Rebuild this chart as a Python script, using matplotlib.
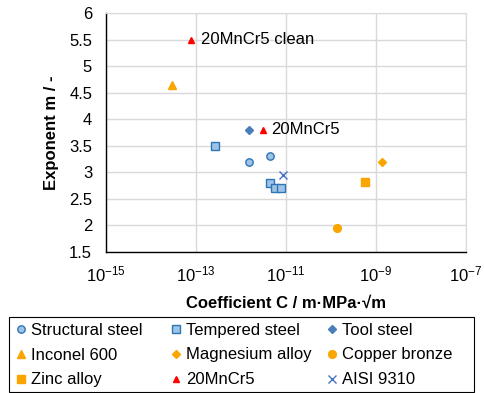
import matplotlib
matplotlib.use("Agg")
import matplotlib.pyplot as plt
from matplotlib.lines import Line2D
from matplotlib.patches import Rectangle

plt.rcParams['font.family'] = ['Liberation Sans', 'DejaVu Sans']
plt.rcParams['mathtext.fontset'] = 'custom'
plt.rcParams['mathtext.rm'] = 'Liberation Sans'
plt.rcParams['mathtext.it'] = 'Liberation Sans:italic'
plt.rcParams['mathtext.bf'] = 'Liberation Sans:bold'

# Data: (C, m)
structural_C = [1.5e-12, 4.4e-12]
structural_m = [3.2, 3.3]
tempered_C = [2.6e-13, 4.4e-12, 5.7e-12, 7.9e-12]
tempered_m = [3.5, 2.8, 2.7, 2.7]
tool_C = [1.5e-12]
tool_m = [3.8]
inconel_C = [2.9e-14]
inconel_m = [4.65]
magnesium_C = [1.36e-9]
magnesium_m = [3.2]
copper_C = [1.36e-10]
copper_m = [1.95]
zinc_C = [5.8e-10]
zinc_m = [2.82]
mncr_C = [7.9e-14, 3.0e-12]
mncr_m = [5.5, 3.8]
mncr_labels = ["20MnCr5 clean", "20MnCr5"]
aisi_C = [8.4e-12]
aisi_m = [2.95]

x_ticks = [1e-15, 1e-13, 1e-11, 1e-9, 1e-7]
y_ticks = [1.5, 2, 2.5, 3, 3.5, 4, 4.5, 5, 5.5, 6]

blue_fill = '#9DC3E6'
blue_edge = '#2E75B6'
tool_blue = '#4A7EBB'
orange = '#F9A602'
red = '#FF0000'

FS = 12
W, H = 485, 393

fig = plt.figure(figsize=(4.85, 3.93), dpi=100)
ax = fig.add_axes([0.2186, 0.359, 0.7424, 0.608])

series = [
    (structural_C, structural_m, 'o', blue_fill, blue_edge, 5.3, 'Structural steel'),
    (tempered_C, tempered_m, 's', blue_fill, blue_edge, 5.6, 'Tempered steel'),
    (tool_C, tool_m, 'D', tool_blue, tool_blue, 4.2, 'Tool steel'),
    (inconel_C, inconel_m, '^', orange, orange, 6.0, 'Inconel 600'),
    (magnesium_C, magnesium_m, 'D', orange, orange, 3.6, 'Magnesium alloy'),
    (copper_C, copper_m, 'o', orange, orange, 5.6, 'Copper bronze'),
    (zinc_C, zinc_m, 's', orange, orange, 5.6, 'Zinc alloy'),
    (mncr_C, mncr_m, '^', red, red, 5.0, '20MnCr5'),
]
handles = []
for C, m, mk, fc, ec, ms, lab in series:
    ax.plot(C, m, linestyle='none', marker=mk, markerfacecolor=fc,
            markeredgecolor=ec, markersize=ms, markeredgewidth=1.0, zorder=3)
    handles.append(Line2D([], [], linestyle='none', marker=mk, markerfacecolor=fc,
                          markeredgecolor=ec, markersize=ms,
                          markeredgewidth=1.0, label=lab))
ax.plot(aisi_C, aisi_m, linestyle='none', marker='x', color='#4472C4',
        markersize=6, markeredgewidth=1.0, zorder=3)
handles.append(Line2D([], [], linestyle='none', marker='x', color='#4472C4',
                      markersize=6, markeredgewidth=1.0, label='AISI 9310'))

offsets = [(7, 0), (6, 0)]
for c, m, lab, off in zip(mncr_C, mncr_m, mncr_labels, offsets):
    ax.annotate(lab, (c, m), xytext=off, textcoords='offset points',
                va='center', ha='left', fontsize=FS)

ax.set_xscale('log')
ax.set_xlim(1e-15, 1e-7)
ax.set_ylim(1.5, 6)
ax.set_xticks(x_ticks)
ax.set_yticks(y_ticks)
ax.set_yticklabels([f"{v:g}" for v in y_ticks])
ax.minorticks_off()
ax.tick_params(axis='y', length=0, labelsize=FS, pad=10)
ax.tick_params(axis='x', length=0, labelsize=FS, pad=9)
ax.grid(True, color='#D9D9D9', linewidth=1.0, zorder=0)
ax.set_axisbelow(True)
for s in ['top', 'right']:
    ax.spines[s].set_color('#D9D9D9')
for s in ['left', 'bottom']:
    ax.spines[s].set_color('black')
    ax.spines[s].set_linewidth(1.0)

ax.set_xlabel('Coefficient C / m·MPa·√m', fontsize=FS, fontweight='bold', labelpad=8)
ax.set_ylabel('Exponent m / -', fontsize=FS, fontweight='bold', labelpad=7)

# Legend frame
fig.patches.append(Rectangle((9 / W, 1 - 392 / H), (474 - 9) / W, (392 - 317) / H,
                             transform=fig.transFigure, fill=False,
                             edgecolor='black', linewidth=0.8))

# Legend: three columns, each its own legend
columns = [[0, 3, 6], [1, 4, 7], [2, 5, 8]]
col_x = [16, 171, 327]
for idxs, cx in zip(columns, col_x):
    lg = fig.legend([handles[i] for i in idxs], [handles[i].get_label() for i in idxs],
                    loc='center left', bbox_to_anchor=(cx / W, 1 - 355 / H),
                    fontsize=FS, frameon=False, handlelength=0.6,
                    handletextpad=0.3, borderaxespad=0, borderpad=0,
                    labelspacing=0.59)

fig.savefig('out.png', dpi=100)
